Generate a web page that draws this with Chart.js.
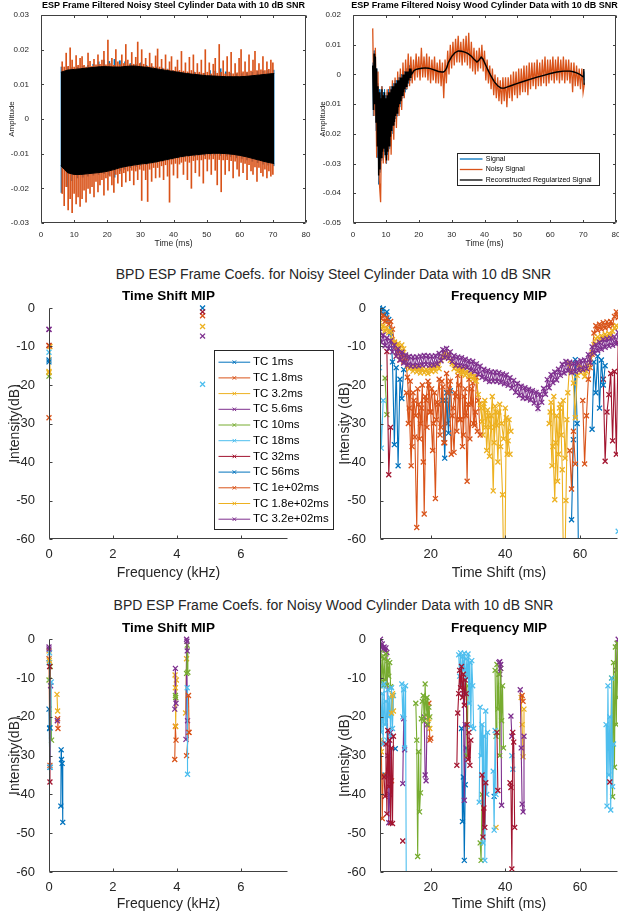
<!DOCTYPE html>
<html lang="en">
<head>
<meta charset="utf-8">
<title>BPD ESP Frame Coefs.</title>
<script src="https://cdn.jsdelivr.net/npm/chart.js@4.4.1/dist/chart.umd.min.js"></script>
<style>
  html, body { margin: 0; padding: 0; background: #fff; }
  body { position: relative; width: 619px; height: 916px; overflow: hidden; font-family: 'Liberation Sans', Arial, sans-serif; }
  canvas { position: absolute; }
  .suptitle { position: absolute; left: 0; width: 667px; text-align: center; font-size: 14px; line-height: 16px; color: #262626; white-space: nowrap; }
</style>
</head>
<body>
<div class="suptitle" style="top:266px">BPD ESP Frame Coefs. for Noisy Steel Cylinder Data with 10 dB SNR</div>
<div class="suptitle" style="top:597px">BPD ESP Frame Coefs. for Noisy Wood Cylinder Data with 10 dB SNR</div>
<canvas id="steel-signal"></canvas>
<canvas id="wood-signal"></canvas>
<canvas id="steel-ts"></canvas>
<canvas id="steel-freq"></canvas>
<canvas id="wood-ts"></canvas>
<canvas id="wood-freq"></canvas>
<script>
Chart.defaults.font.family = "'Liberation Sans', Arial, sans-serif";
Chart.defaults.color = '#262626';

// ---- tick values ----
const timeTicks = [0, 10, 20, 30, 40, 50, 60, 70, 80];
const steelAmpTicks = [-0.03, -0.02, -0.01, 0, 0.01, 0.02, 0.03];
const woodAmpTicks = [-0.05, -0.04, -0.03, -0.02, -0.01, 0, 0.01, 0.02];
const dbTicks = [-60, -50, -40, -30, -20, -10, 0];
const freqTicks = [0, 2, 4, 6];
const shiftTicks = [20, 40, 60];

// ---- time constants of the frame ----
const tcLabels = ['TC 1ms', 'TC 1.8ms', 'TC 3.2ms', 'TC 5.6ms', 'TC 10ms', 'TC 18ms', 'TC 32ms',
                  'TC 56ms', 'TC 1e+02ms', 'TC 1.8e+02ms', 'TC 3.2e+02ms'];
const tcColors = ['#0072BD', '#D95319', '#EDB120', '#7E2F8E', '#77AC30', '#4DBEEE', '#A2142F',
                  '#0072BD', '#D95319', '#EDB120', '#7E2F8E'];

// ---- steel cylinder signal (ms, amplitude) ----
// reconstructed signal envelope
const steelEnvT = [6, 7, 8, 10, 12, 14, 16, 18, 20, 22, 24, 26, 28, 30, 32, 34, 36, 38, 40, 42, 44, 46,
                   48, 50, 52, 54, 56, 58, 60, 62, 64, 66, 68, 70, 70.4];
const steelReconHi = [0.0135, 0.0138, 0.0141, 0.0143, 0.0145, 0.0147, 0.0149, 0.0151, 0.0151, 0.0150,
                      0.0150, 0.0152, 0.0153, 0.0151, 0.0149, 0.0146, 0.0143, 0.0140, 0.0137, 0.0134,
                      0.0131, 0.0129, 0.0127, 0.0125, 0.0124, 0.0123, 0.0122, 0.0122, 0.0122, 0.0123,
                      0.0125, 0.0127, 0.0129, 0.0131, 0.0131];
const steelReconLo = [-0.0135, -0.0145, -0.0155, -0.0160, -0.0160, -0.0158, -0.0156, -0.0154, -0.0151, -0.0146,
                      -0.0140, -0.0136, -0.0133, -0.0130, -0.0128, -0.0125, -0.0121, -0.0117, -0.0113, -0.0109,
                      -0.0106, -0.0104, -0.0102, -0.0100, -0.0099, -0.0099, -0.0100, -0.0102, -0.0105, -0.0109,
                      -0.0114, -0.0119, -0.0124, -0.0128, -0.0129];
// noisy signal extremes, one per 0.6 ms from 6.4 ms
const steelNoisyT0 = 6.4, steelNoisyDt = 0.6;
const steelNoisyHi = [
  0.0165, 0.0150, 0.0190, 0.0152, 0.0205, 0.0170, 0.0150, 0.0183, 0.0155, 0.0175,
  0.0180, 0.0155, 0.0150, 0.0190, 0.0166, 0.0152, 0.0172, 0.0156, 0.0185, 0.0158,
  0.0170, 0.0195, 0.0156, 0.0228, 0.0160, 0.0175, 0.0155, 0.0200, 0.0165, 0.0157,
  0.0185, 0.0160, 0.0215, 0.0170, 0.0157, 0.0192, 0.0158, 0.0178, 0.0222, 0.0160,
  0.0200, 0.0158, 0.0175, 0.0152, 0.0190, 0.0160, 0.0150, 0.0182, 0.0202, 0.0150,
  0.0172, 0.0145, 0.0185, 0.0143, 0.0165, 0.0180, 0.0140, 0.0150, 0.0170, 0.0140,
  0.0195, 0.0138, 0.0162, 0.0136, 0.0178, 0.0140, 0.0185, 0.0134, 0.0160, 0.0135,
  0.0170, 0.0132, 0.0200, 0.0135, 0.0162, 0.0130, 0.0158, 0.0175, 0.0132, 0.0215,
  0.0135, 0.0168, 0.0130, 0.0180, 0.0135, 0.0192, 0.0130, 0.0160, 0.0133, 0.0175,
  0.0200, 0.0136, 0.0165, 0.0135, 0.0185, 0.0138, 0.0170, 0.0195, 0.0140, 0.0160,
  0.0142, 0.0180, 0.0140, 0.0165, 0.0143, 0.0170, 0.0162];
const steelNoisyLo = [
  -0.0215, -0.0250, -0.0195, -0.0262, -0.0230, -0.0270, -0.0215, -0.0245, -0.0225, -0.0252,
  -0.0230, -0.0205, -0.0240, -0.0200, -0.0215, -0.0195, -0.0225, -0.0180, -0.0210, -0.0190,
  -0.0175, -0.0220, -0.0170, -0.0205, -0.0165, -0.0190, -0.0212, -0.0160, -0.0185, -0.0158,
  -0.0195, -0.0155, -0.0182, -0.0150, -0.0178, -0.0148, -0.0190, -0.0150, -0.0175, -0.0145,
  -0.0235, -0.0148, -0.0175, -0.0238, -0.0145, -0.0180, -0.0140, -0.0170, -0.0140, -0.0168,
  -0.0135, -0.0175, -0.0132, -0.0165, -0.0240, -0.0130, -0.0162, -0.0128, -0.0170, -0.0130,
  -0.0125, -0.0160, -0.0122, -0.0175, -0.0125, -0.0200, -0.0120, -0.0155, -0.0118, -0.0165,
  -0.0118, -0.0185, -0.0115, -0.0150, -0.0116, -0.0160, -0.0115, -0.0148, -0.0190, -0.0117,
  -0.0210, -0.0118, -0.0160, -0.0117, -0.0150, -0.0120, -0.0170, -0.0122, -0.0145, -0.0165,
  -0.0125, -0.0155, -0.0128, -0.0175, -0.0132, -0.0150, -0.0160, -0.0138, -0.0180, -0.0140,
  -0.0155, -0.0165, -0.0145, -0.0170, -0.0150, -0.0165, -0.0160];
// clean signal extremes, one per 1.6 ms from 6.2 ms
const steelSignalT0 = 6.2, steelSignalDt = 1.6;
const steelSignalHi = [0.0150, 0.0150, 0.0148, 0.0150, 0.0152, 0.0155, 0.0158, 0.0165, 0.0170, 0.0166,
                       0.0172, 0.0168, 0.0165, 0.0160, 0.0158, 0.0162, 0.0155, 0.0152, 0.0150, 0.0147,
                       0.0144, 0.0140, 0.0137, 0.0135, 0.0133, 0.0135, 0.0131, 0.0132, 0.0140, 0.0138,
                       0.0145, 0.0136, 0.0132, 0.0130, 0.0131, 0.0133, 0.0135, 0.0137, 0.0138, 0.0140, 0.0141];
const steelSignalLo = [-0.0212, -0.0195, -0.0178, -0.0170, -0.0168, -0.0165, -0.0162, -0.0160, -0.0158, -0.0162,
                       -0.0168, -0.0150, -0.0145, -0.0140, -0.0137, -0.0134, -0.0131, -0.0128, -0.0125, -0.0122,
                       -0.0119, -0.0116, -0.0112, -0.0110, -0.0108, -0.0107, -0.0106, -0.0105, -0.0104, -0.0104,
                       -0.0105, -0.0107, -0.0109, -0.0112, -0.0115, -0.0118, -0.0122, -0.0126, -0.0130, -0.0133, -0.0135];

// ---- wood cylinder signal (ms, amplitude) ----
// early ringing, sampled every 0.2 ms from 6 ms
const woodDenseT0 = 6.0, woodDenseDt = 0.2;
const woodReconDense = [
  0.003, -0.012, 0.007, -0.010, 0.006, -0.016, 0.002, -0.024, -0.004, -0.034,
  -0.006, -0.032, -0.008, -0.028, -0.005, -0.026, -0.007, -0.025, -0.006, -0.027,
  -0.008, -0.029, -0.007, -0.026, -0.006, -0.024, -0.006, -0.021, -0.005, -0.019,
  -0.004, -0.017, -0.004, -0.016, -0.003, -0.014, -0.003, -0.013, -0.002, -0.011,
  -0.002, -0.010, -0.001, -0.009, -0.001, -0.007, 0.000, -0.006, 0.000, -0.005,
  0.001, -0.004, 0.001, -0.003, 0.001, -0.002, 0.002, -0.001, 0.002, 0.000];
const woodSignalDense = [
  0.004, -0.014, 0.008, -0.012, 0.006, -0.019, 0.002, -0.028, -0.003, -0.037,
  -0.005, -0.033, -0.007, -0.029, -0.004, -0.027, -0.006, -0.026, -0.005, -0.028,
  -0.007, -0.030, -0.006, -0.027, -0.005, -0.025, -0.005, -0.022, -0.004, -0.020,
  -0.003, -0.018, -0.003, -0.017, -0.002, -0.015, -0.002, -0.014, -0.001, -0.012,
  -0.001, -0.011, 0.000, -0.010, 0.000, -0.008, 0.001, -0.007, 0.001, -0.006,
  0.002, -0.005, 0.002, -0.004, 0.002, -0.003, 0.003, -0.002, 0.003, -0.001];
// slow part after the ringing
const woodSmoothT = [18.5, 19, 20, 21, 22, 23, 24, 25, 26, 27,
                     27.5, 28, 28.5, 29, 30, 31, 32, 33, 34, 35,
                     36, 37, 37.7, 38.3, 39, 39.5, 40, 41, 42, 43,
                     44, 45, 46, 47, 48, 50, 52, 54, 56, 58,
                     60, 62, 64, 66, 67, 68, 69, 70, 70.2, 70.3];
const woodReconSmooth = [0.0012, 0.0016, 0.0019, 0.0021, 0.0022, 0.0021, 0.0018, 0.0014, 0.0010, 0.0008,
                         0.0008, 0.0012, 0.0022, 0.0040, 0.0060, 0.0073, 0.0079, 0.0078, 0.0075, 0.0070,
                         0.0061, 0.0049, 0.0042, 0.0048, 0.0058, 0.0052, 0.0040, 0.0016, -0.0006, -0.0025,
                         -0.0038, -0.0046, -0.0046, -0.0042, -0.0038, -0.0030, -0.0023, -0.0016, -0.0009, -0.0003,
                         0.0003, 0.0008, 0.0011, 0.0011, 0.0009, 0.0005, 0.0000, -0.0008, 0.0018, -0.0035];
const woodSignalSmooth = [0.0013, 0.0017, 0.0020, 0.0022, 0.0022, 0.0020, 0.0017, 0.0013, 0.0010, 0.0008,
                          0.0009, 0.0013, 0.0024, 0.0042, 0.0062, 0.0074, 0.0080, 0.0079, 0.0076, 0.0071,
                          0.0062, 0.0050, 0.0043, 0.0049, 0.0059, 0.0053, 0.0041, 0.0017, -0.0005, -0.0024,
                          -0.0037, -0.0045, -0.0046, -0.0043, -0.0039, -0.0031, -0.0024, -0.0017, -0.0010, -0.0004,
                          0.0002, 0.0007, 0.0010, 0.0011, 0.0009, 0.0005, 0.0001, -0.0006, 0.0010, -0.0020];
// noisy recording, every 0.4 ms from 6 ms
const woodNoisyT0 = 6.0, woodNoisyDt = 0.4;
const woodNoisy = [
  0.0155, -0.014, 0.009, -0.028, 0.001, -0.036, -0.043, -0.004, -0.030, -0.007,
  -0.030, -0.005, -0.029, -0.004, -0.027, -0.002, -0.022, -0.001, -0.018, 0.001,
  -0.014, 0.002, -0.012, 0.004, -0.008, 0.005, -0.005, 0.007, -0.004, 0.006,
  -0.003, 0.005, -0.002, 0.007, -0.001, 0.006, -0.002, 0.009, -0.001, 0.006,
  -0.001, 0.007, -0.002, 0.006, -0.003, 0.005, -0.002, 0.006, -0.003, 0.004,
  -0.003, 0.005, -0.004, 0.004, -0.008, 0.005, -0.003, 0.008, 0.000, 0.010,
  0.002, 0.011, 0.003, 0.012, 0.004, 0.013, 0.004, 0.011, 0.003, 0.012,
  0.004, 0.013, 0.003, 0.014, 0.002, 0.011, 0.001, 0.009, 0.000, 0.008,
  0.001, 0.009, 0.002, 0.010, 0.001, 0.008, -0.002, 0.005, -0.003, 0.003,
  -0.005, 0.002, -0.007, 0.000, -0.008, -0.001, -0.009, -0.002, -0.010, -0.001,
  -0.009, -0.001, -0.011, -0.001, -0.008, 0.000, -0.009, 0.001, -0.007, 0.001,
  -0.008, 0.002, -0.007, 0.002, -0.006, 0.003, -0.006, 0.003, -0.007, 0.004,
  -0.005, 0.004, -0.004, 0.004, -0.005, 0.005, -0.004, 0.004, -0.004, 0.005,
  -0.003, 0.006, -0.004, 0.005, -0.003, 0.005, -0.002, 0.006, -0.003, 0.005,
  -0.002, 0.006, -0.003, 0.005, -0.002, 0.006, -0.003, 0.005, -0.002, 0.005,
  -0.003, 0.004, -0.006, 0.004, -0.004, 0.003, -0.004, 0.002, -0.005, 0.002,
  -0.006, -0.003];

// ---- time shift MIP: per TC, runs of [kHz, dB] pairs ----
const steelTsMip = [
  [[[0, -13.5]], [[4.8, 0.0]]],
  [[[0, -28.5]], [[4.8, -2.0]]],
  [[[0, -16.5], [0.03, -10.0]], [[4.8, -4.8]]],
  [[[0, -5.6]], [[4.8, -7.3]]],
  [[[0, -17.7]]],
  [[[0, -11.5]], [[4.8, -19.8]]],
  [[[0, -9.7]], [[4.8, -1.0]]],
  [[[0, -14.0]]],
  [[[0, -9.8]]],
  [[[0, -16.8]]],
  [[[0, -5.5]]]
];
const woodTsMip = [
  [[[0, -18.0], [0.02, -23.0], [0.03, -33.0]], [[0.37, -43.0], [0.38, -28.5], [0.39, -31.0], [0.41, -32.0], [0.43, -47.2]]],
  [[[0, -5.0], [0.03, -32.5]], [[0.27, -20.5], [0.28, -23.0]], [[3.93, -31.0], [3.95, -22.4], [3.97, -26.0]], [[4.3, -30.0], [4.36, -24.0]]],
  [[[0, -3.0], [0.02, -6.0]], [[0.25, -14.2], [0.27, -18.5]], [[3.94, -9.2], [3.96, -22.5], [3.98, -10.5]], [[4.27, -19.0], [4.3, -5.0]]],
  [[[0, -2.0], [0.05, -12.0]], [[0.26, -21.0]], [[3.93, -18.0], [3.95, -7.5], [3.97, -16.5]], [[4.28, -25.8], [4.3, 0.0], [4.33, -21.0]]],
  [[[0, -10.5], [0.04, -7.0], [0.08, -26.0]], [[3.95, -14.5], [3.96, -15.0]], [[4.3, -8.8], [4.32, -1.5], [4.34, -8.5]]],
  [[[0, -6.0], [0.02, -3.5], [0.04, -33.0], [0.07, -11.0]], [[4.32, -12.5], [4.33, -34.8]]],
  [[[0.02, -7.0], [0.03, -36.8]]],
  [[[0.03, -22.8]]],
  [[[4.36, -14.5], [4.38, -24.0]]],
  [[[0.01, -5.5]], [[3.95, -12.5]]],
  [[[0, -2.5]], [[4.31, -0.5], [4.32, -3.0]]]
];

// ---- frequency MIP: per TC, runs of [start ms, dB, dB, ...] on a fixed step ----
const steelFreqStep = 0.5;
const steelFreqMip = [
  [],
  [[13.5, -22.0, -30.0, -19.0, -36.0, -24.0, -28.0, -21.0, -34.0, -26.0, -40.0,
    -23.0, -31.0, -20.0, -27.0, -37.0, -22.0, -29.0, -25.0, -33.0, -19.0,
    -35.0, -24.0, -30.0, -21.0, -38.0, -26.0, -22.0, -32.0, -20.0, -29.0,
    -36.0, -23.0, -28.0, -25.0, -34.0, -21.0, -30.0, -27.0, -32.0]],
  [[33.5, -26.0, -33.0, -24.0, -37.0, -28.0, -31.0, -23.0, -35.0, -27.0, -40.0,
    -25.0, -30.0, -34.0, -26.0, -38.0, -29.0, -32.0],
   [52.0, -27.0, -41.0, -23.0, -35.0, -45.0, -26.0, -33.0, -24.0, -39.0, -29.0]],
  [],
  [[7.75, -18.2, -27.7]],
  [[6.25, -15.5, -36.4, -24.0], [70.25, -58.0]],
  [[8.25, -11.3, -43.3, -31.0], [66.25, -18.5, -39.8, -27.0, -22.5, -17.0, -34.5, -16.5, -38.0, -9.0]],
  [[6.25, 0.0, -1.0, -0.2, -1.8, -1.0, -3.0, -6.5, -14.0, -35.5, -15.5, -41.0, -18.5, -23.5, -16.0],
   [23.25, -24.0, -39.0, -22.0, -32.5, -21.5],
   [57.75, -55.0, -34.2, -13.4, -30.0, -80],
   [63.25, -31.5, -14.0, -22.0, -12.5, -26.0, -13.5, -20.0, -15.0]],
  [[6.25, -1.2, -2.8, -1.8, -3.5, -2.6, -4.2, -3.5, -5.5, -9.0, -12.5,
    -11.0, -13.5, -12.0, -14.0, -13.0, -18.0, -26.0, -41.0, -22.0, -33.5,
    -57.0, -25.0, -30.0, -20.0, -53.5, -24.0, -19.0, -27.0, -21.0, -30.0,
    -49.5, -24.5, -18.5, -31.0, -20.5, -35.0, -17.0, -22.0, -19.0, -28.0,
    -37.5, -23.0, -17.5, -29.0, -16.0, -33.0, -21.0, -45.0, -18.5, -25.0,
    -19.5, -30.5, -18.0, -24.0, -33.0],
   [57.25, -37.0, -47.0, -32.0, -40.5],
   [60.75, -24.0, -40.5, -28.0, -18.5, -15.5, -12.0, -6.5, -4.6, -5.8, -4.2,
    -5.5, -3.8, -5.2, -3.6, -4.8, -3.5, -4.6, -2.2, -1.0, -2.5]],
  [[6.25, -4.0, -5.5, -4.6, -6.0, -5.2, -6.4, -6.0, -8.2, -8.8, -10.0,
    -9.2, -10.4, -9.6, -10.6, -12.5, -15.0, -15.8, -15.2, -16.4, -15.4,
    -16.6, -15.5, -16.9, -15.7, -16.8, -15.9, -17.0, -15.6, -16.5, -15.3,
    -16.4, -14.8, -15.8, -13.5, -12.6, -11.5, -12.8, -11.8, -13.6, -14.5,
    -15.8, -15.0, -16.5, -15.6, -17.2, -16.0, -17.5, -16.4, -17.8, -17.0,
    -18.5, -17.6, -19.0, -22.5, -25.0, -29.5, -24.8, -31.0, -26.5, -38.5,
    -28.0, -47.5, -25.5, -30.5, -27.0, -36.0, -48.5, -80, -28.5, -34.5,
    -38.0],
   [51.75, -30.0, -24.5, -36.0, -49.8, -28.0, -38.0, -25.0, -42.0, -80, -50.0,
    -22.0, -14.5, -16.5, -19.5, -28.5, -17.5, -14.8, -16.8, -15.5, -17.8,
    -16.5, -15.0, -13.2, -11.5, -9.5, -8.0, -7.5, -8.2, -7.2, -7.8,
    -6.8, -7.4, -6.6, -7.1, -6.0, -5.2, -4.6, -5.0]],
  [[6.25, -6.3, -8.9, -7.0, -9.8, -7.8, -10.5, -8.5, -11.4, -9.6, -12.5,
    -10.6, -13.5, -11.5, -14.3, -12.2, -14.8, -12.6, -15.1, -12.7, -15.1,
    -12.7, -15.0, -12.5, -14.8, -12.3, -14.7, -12.4, -14.9, -12.5, -14.8,
    -12.4, -14.5, -11.8, -13.7, -10.8, -12.9, -10.5, -13.1, -11.4, -13.9,
    -12.4, -14.9, -12.7, -15.0, -12.9, -15.2, -13.3, -15.5, -13.7, -16.1,
    -13.9, -16.5, -14.5, -17.2, -15.1, -18.0, -15.9, -18.5, -16.3, -19.1,
    -16.6, -19.0, -16.6, -19.1, -16.8, -19.3, -17.1, -19.7, -17.4, -20.1,
    -18.1, -20.8, -18.8, -21.9, -19.6, -22.7, -20.3, -23.4, -20.7, -23.5,
    -21.1, -23.9, -21.5, -24.7, -21.9, -26.1, -22.4, -24.5, -20.9, -22.4,
    -18.6, -20.7, -17.3, -19.4, -16.6, -18.7, -15.9, -17.5, -14.6, -16.9,
    -13.9, -16.3, -14.1, -16.8, -14.4, -16.5, -14.1, -16.2, -13.7, -16.0,
    -13.5, -15.7, -12.1, -14.2, -10.1, -11.7, -9.5, -11.1, -8.9, -10.7,
    -8.2, -10.2, -8.0, -9.9, -7.8, -9.7, -7.5, -9.3, -6.3]]
];
const woodFreqStep = 0.25;
const woodFreqMip = [
  [[7.75, -35.0], [10.5, -28.2], [28.25, -23.0, -47.0, -35.5, -57.0, -37.5, -28.0], [37.0, -40.5]],
  [[6.75, -26.5, -46.2, -35.0], [9.5, -36.5], [19.5, -16.5, -26.0, -25.5]],
  [[6.5, -26.0, -29.0], [9.75, -14.0, -18.5], [19.5, -20.5, -23.0], [37.5, -48.5], [44.25, -15.0, -22.0, -30.3, -18.0]],
  [[6.5, 0.0, -2.0, -1.2, -2.6, -2.0, -2.8, -2.2, -3.4, -30.0, -47.3, -40.0, -24.0],
   [12.5, -37.2, -20.5, -28.5], [18.25, -20.0, -35.0, -36.5, -22.0], [28.75, -14.0, -41.5, -22.0],
   [38.25, -6.0, -9.0, -6.5, -42.8], [41.5, -19.8, -25.0], [44.0, -13.0, -28.0, -42.5, -44.5, -25.0],
   [69.75, -8.0, -1.0, 0.0]],
  [[6.5, -3.5, -11.0, -4.5, -12.0, -5.0, -10.5, -3.8, -11.8, -5.5, -9.5, -6.0, -12.2],
   [16.0, -16.5, -26.0, -56.0, -29.0, -44.5, -39.6, -20.5, -16.0, -14.5, -21.0, -11.5, -19.5, -15.0, -22.0, -17.5, -20.0],
   [29.5, -9.0, -30.0, -12.0], [33.25, -52.5, -57.0, -40.0],
   [37.25, -8.0, -25.0, -6.5, -18.0, -9.0, -30.0, -7.5, -21.0, -12.0, -28.0],
   [68.25, -28.0, -10.0, -40.6, -6.0, -33.0, -2.0, -22.0, -1.0, -15.0]],
  [[6.5, -12.0, -24.0, -14.0, -27.0, -11.5, -22.0, -16.0, -26.0, -13.0, -20.0, -15.0, -25.0, -12.5, -23.0, -14.5],
   [12.25, -11.5, -20.0, -13.0, -28.0, -12.0, -80],
   [27.5, -4.0, -9.5, -3.5, -12.0, -4.5, -8.0, -3.6, -14.0, -5.0, -10.0, -3.8, -16.5, -6.0, -22.5, -5.5, -12.0, -23.0],
   [33.0, -42.0, -17.5, -30.0, -22.0, -52.5, -25.0, -57.0, -18.5, -40.0, -24.0],
   [36.75, -34.0, -49.2, -23.5, -40.0], [41.75, -30.0, -33.5],
   [67.0, -22.0, -43.0, -12.0, -35.0, -20.0, -44.0, -10.0, -38.0, -27.0]],
  [[7.5, -35.5, -40.5, -27.0, -45.0, -23.5, -38.0, -26.0, -47.3, -28.0, -47.5, -25.0], [12.5, -52.0],
   [27.0, -32.5, -19.0, -14.0, -8.0, -12.5, -7.0, -15.0, -9.0, -17.0, -10.5, -14.0, -22.0, -31.0, -24.0, -32.5, -26.0],
   [33.75, -35.0, -51.0, -43.5, -48.5, -37.0], [37.75, -24.0, -39.0],
   [41.25, -37.0, -38.2, -59.2, -24.0, -26.5, -48.5], [68.0, -36.8]],
  [],
  [[44.5, -14.5, -16.0]],
  [[9.5, -19.0, -14.5]],
  [[38.5, -5.8, -7.5]]
];

// ---- point builders ----
function gridPoints(t0, dt, values) {
  return values.map((v, i) => ({ x: t0 + i * dt, y: v }));
}
function xyPoints(xs, ys) {
  return xs.map((x, i) => ({ x: x, y: ys[i] }));
}
function floatBars(t0, dt, lo, hi) {
  return hi.map((h, i) => ({ x: t0 + i * dt, y: [lo[i], h] }));
}
// each run becomes its own line piece; a null point breaks the line
function runPoints(runs, step) {
  const pts = [];
  runs.forEach(run => {
    run.slice(1).forEach((v, i) => pts.push({ x: run[0] + i * step, y: v }));
    pts.push({ x: run[0], y: null });
  });
  return pts;
}
function pairRunPoints(runs) {
  const pts = [];
  runs.forEach(run => {
    run.forEach(p => pts.push({ x: p[0], y: p[1] }));
    pts.push({ x: run[0][0], y: null });
  });
  return pts;
}

// ---- plugins ----
// inward tick marks and axis lines, optional closed box
const axesFrame = {
  id: 'axesFrame',
  defaults: { color: '#404040', tickLength: 3, box: false },
  afterDatasetsDraw(chart, args, opts) {
    const { ctx, chartArea: a, scales: { x, y } } = chart;
    const L = Math.round(a.left) + 0.5, R = Math.round(a.right) - 0.5;
    const T = Math.round(a.top) + 0.5, B = Math.round(a.bottom) - 0.5;
    const len = opts.tickLength;
    ctx.save();
    ctx.strokeStyle = opts.color;
    ctx.lineWidth = 1;
    ctx.beginPath();
    ctx.moveTo(L, T); ctx.lineTo(L, B); ctx.lineTo(R, B);
    if (opts.box) { ctx.lineTo(R, T); ctx.closePath(); }
    x.ticks.forEach(t => {
      const px = Math.round(x.getPixelForValue(t.value)) + 0.5;
      ctx.moveTo(px, B); ctx.lineTo(px, B - len);
      if (opts.box) { ctx.moveTo(px, T); ctx.lineTo(px, T + len); }
    });
    y.ticks.forEach(t => {
      const py = Math.round(y.getPixelForValue(t.value)) + 0.5;
      ctx.moveTo(L, py); ctx.lineTo(L + len, py);
      if (opts.box) { ctx.moveTo(R, py); ctx.lineTo(R - len, py); }
    });
    ctx.stroke();
    ctx.restore();
  }
};

// bold title centred over the plot area rather than the whole canvas
const areaTitle = {
  id: 'areaTitle',
  afterDraw(chart, args, o) {
    const { ctx, chartArea: a } = chart;
    ctx.save();
    ctx.font = 'bold ' + o.size + "px 'Liberation Sans', Arial, sans-serif";
    ctx.fillStyle = '#000';
    ctx.textAlign = 'center';
    ctx.textBaseline = 'middle';
    ctx.fillText(o.text, (a.left + a.right) / 2, a.top - o.gap);
    ctx.restore();
  }
};

// boxed legend placed at an offset from the plot area corner
const boxLegend = {
  id: 'boxLegend',
  afterDraw(chart, args, o) {
    const { ctx, chartArea: a } = chart;
    const left = Math.round(a.left + o.x) + 0.5, top = Math.round(a.top + o.y) + 0.5;
    ctx.save();
    ctx.fillStyle = '#fff';
    ctx.fillRect(left, top, o.width, o.height);
    ctx.strokeStyle = '#262626';
    ctx.lineWidth = 1;
    ctx.strokeRect(left, top, o.width, o.height);
    ctx.font = o.fontSize + "px 'Liberation Sans', Arial, sans-serif";
    ctx.textBaseline = 'middle';
    chart.data.datasets.forEach((ds, i) => {
      const yy = top + o.firstRow + i * o.rowStep;
      ctx.strokeStyle = ds.borderColor;
      ctx.lineWidth = o.lineWidth;
      ctx.beginPath();
      ctx.moveTo(left + o.lineFrom, yy);
      ctx.lineTo(left + o.lineTo, yy);
      ctx.stroke();
      if (ds.pointRadius > 0) {
        ctx.lineWidth = 1;
        Chart.helpers.drawPoint(ctx, { pointStyle: ds.pointStyle, radius: o.markerRadius, borderWidth: 1 },
          left + (o.lineFrom + o.lineTo) / 2, yy);
      }
      ctx.fillStyle = '#000';
      ctx.fillText(ds.label, left + o.textX, yy);
    });
    ctx.restore();
  }
};
Chart.register(axesFrame, areaTitle, boxLegend);

function placeCanvas(id, left, top, width, height) {
  const c = document.getElementById(id);
  c.width = width;
  c.height = height;
  c.style.left = left + 'px';
  c.style.top = top + 'px';
  c.style.width = width + 'px';
  c.style.height = height + 'px';
  return c;
}

function linearAxis(o) {
  const horizontal = o.axis === 'x';
  return {
    type: 'linear',
    min: o.min,
    max: o.max,
    offset: false,
    grid: { display: false },
    border: { display: false },
    afterBuildTicks: scale => { scale.ticks = o.ticks.map(v => ({ value: v })); },
    afterFit: scale => { if (horizontal) scale.height = o.size; else scale.width = o.size; },
    ticks: {
      autoSkip: false, maxRotation: 0, padding: o.tickPad, color: '#262626',
      font: { size: o.tickFont },
      callback: o.format || (v => String(v))
    },
    title: {
      display: true, text: o.title, color: '#262626', font: { size: o.titleFont },
      padding: horizontal ? { top: 0, bottom: o.titlePad } : { top: o.titlePad, bottom: 0 }
    }
  };
}

function signalOptions(o) {
  return {
    responsive: false,
    animation: false,
    events: [],
    layout: { padding: { left: 0, right: 41, top: 15, bottom: 0 } },
    plugins: {
      legend: { display: false },
      tooltip: { enabled: false },
      title: { display: false },
      areaTitle: { text: o.title, size: 9, gap: 9.5 },
      axesFrame: { box: true, tickLength: 2.5 },
      boxLegend: o.legend || false
    },
    scales: {
      x: linearAxis({ axis: 'x', min: 0, max: 80, ticks: timeTicks, size: 30, tickPad: -1, tickFont: 8,
                      title: 'Time (ms)', titleFont: 8.5, titlePad: 4 }),
      y: linearAxis({ axis: 'y', min: o.yMin, max: o.yMax, ticks: o.yTicks, size: 41, tickPad: 4, tickFont: 8,
                      title: 'Amplitude', titleFont: 8, titlePad: o.yTitlePad, format: v => String(+v.toFixed(2)) })
    }
  };
}

function mipOptions(o) {
  return {
    responsive: false,
    animation: false,
    events: [],
    layout: { padding: { left: 0, right: 49, top: o.areaTop, bottom: 0 } },
    plugins: {
      legend: { display: false },
      tooltip: { enabled: false },
      title: { display: false },
      areaTitle: { text: o.title, size: 13.5, gap: o.titleGap },
      axesFrame: { box: false, tickLength: 3 },
      boxLegend: o.legend || false
    },
    scales: {
      x: linearAxis({ axis: 'x', min: o.xMin, max: o.xMax, ticks: o.xTicks, size: 45, tickPad: 0, tickFont: 13,
                      title: o.xTitle, titleFont: 14, titlePad: o.xTitlePad }),
      y: linearAxis({ axis: 'y', min: -60, max: 0, ticks: dbTicks, size: 49, tickPad: 6, tickFont: 13,
                      title: o.yTitle, titleFont: 14, titlePad: o.yTitlePad })
    }
  };
}

function mipDatasets(pointsPerTc, clip) {
  return tcLabels.map((label, i) => ({
    label: label,
    data: pointsPerTc[i],
    borderColor: tcColors[i],
    backgroundColor: tcColors[i],
    borderWidth: 1.1,
    pointStyle: 'crossRot',
    pointRadius: 3.5,
    pointBorderWidth: 1.3,
    spanGaps: false,
    clip: clip,
    order: tcLabels.length - i
  }));
}

const tcLegend = { x: 165.3, y: 42, width: 119, height: 179, firstRow: 11.7, rowStep: 15.7,
                   lineFrom: 4, lineTo: 35.7, textX: 38.4, fontSize: 11.5, lineWidth: 1, markerRadius: 2.5 };

// ---- steel signal ----
new Chart(placeCanvas('steel-signal', 0, 0, 347, 253), {
  type: 'line',
  data: {
    datasets: [
      { label: 'Reconstructed Regularized Signal', data: xyPoints(steelEnvT, steelReconHi), borderColor: '#000',
        backgroundColor: '#000', borderWidth: 1, pointRadius: 0, fill: '+1', order: 0 },
      { label: 'Reconstructed Regularized Signal', data: xyPoints(steelEnvT, steelReconLo), borderColor: '#000',
        borderWidth: 1, pointRadius: 0, fill: false, order: 0 },
      { type: 'bar', label: 'Noisy Signal', data: floatBars(steelNoisyT0, steelNoisyDt, steelNoisyLo, steelNoisyHi),
        backgroundColor: '#D95319', barThickness: 1, grouped: false, order: 1 },
      { type: 'bar', label: 'Signal', data: floatBars(steelSignalT0, steelSignalDt, steelSignalLo, steelSignalHi),
        backgroundColor: '#0072BD', barThickness: 1.2, grouped: false, order: 2 }
    ]
  },
  options: signalOptions({ title: 'ESP Frame Filtered Noisy Steel Cylinder Data with 10 dB SNR',
                           yMin: -0.03, yMax: 0.03, yTicks: steelAmpTicks, yTitlePad: 6.5 })
});

// ---- wood signal ----
new Chart(placeCanvas('wood-signal', 312, 0, 345, 253), {
  type: 'line',
  data: {
    datasets: [
      { label: 'Signal',
        data: gridPoints(woodDenseT0, woodDenseDt, woodSignalDense).concat(xyPoints(woodSmoothT, woodSignalSmooth)),
        borderColor: '#0072BD', borderWidth: 1, pointRadius: 0, order: 2 },
      { label: 'Noisy Signal', data: gridPoints(woodNoisyT0, woodNoisyDt, woodNoisy),
        borderColor: '#D95319', borderWidth: 1.3, pointRadius: 0, order: 1 },
      { label: 'Reconstructed Regularized Signal',
        data: gridPoints(woodDenseT0, woodDenseDt, woodReconDense).concat(xyPoints(woodSmoothT, woodReconSmooth)),
        borderColor: '#000', borderWidth: 1.4, pointRadius: 0, order: 0 }
    ]
  },
  options: signalOptions({ title: 'ESP Frame Filtered Noisy Wood Cylinder Data with 10 dB SNR',
                           yMin: -0.05, yMax: 0.02, yTicks: woodAmpTicks, yTitlePad: 6,
                           legend: { x: 103.7, y: 137.7, width: 142, height: 32, firstRow: 5.5, rowStep: 10.5,
                                     lineFrom: 2.3, lineTo: 25, textX: 28.3, fontSize: 7, lineWidth: 1.3, markerRadius: 0 } })
});

// ---- steel MIPs ----
new Chart(placeCanvas('steel-ts', 0, 286, 337, 298), {
  type: 'line',
  data: { datasets: mipDatasets(steelTsMip.map(pairRunPoints), { left: 5, top: 5, right: 5, bottom: 0 }) },
  options: mipOptions({ title: 'Time Shift MIP', areaTop: 22, titleGap: 11.8, xMin: 0, xMax: 7.47, xTicks: freqTicks,
                        xTitle: 'Frequency (kHz)', xTitlePad: 2.6, yTitle: 'Intensity(dB)', yTitlePad: 6.6,
                        legend: tcLegend })
});
new Chart(placeCanvas('steel-freq', 331, 286, 336, 298), {
  type: 'line',
  data: { datasets: mipDatasets(steelFreqMip.map(r => runPoints(r, steelFreqStep)), { left: 0, top: 5, right: 0, bottom: 0 }) },
  options: mipOptions({ title: 'Frequency MIP', areaTop: 22, titleGap: 11.8, xMin: 6.4, xMax: 70.2, xTicks: shiftTicks,
                        xTitle: 'Time Shift (ms)', xTitlePad: 2.6, yTitle: 'Intensity (dB)', yTitlePad: 5.6 })
});

// ---- wood MIPs ----
new Chart(placeCanvas('wood-ts', 0, 618, 337, 299), {
  type: 'line',
  data: { datasets: mipDatasets(woodTsMip.map(pairRunPoints), { left: 5, top: 5, right: 5, bottom: 0 }) },
  options: mipOptions({ title: 'Time Shift MIP', areaTop: 21.3, titleGap: 11, xMin: 0, xMax: 7.47, xTicks: freqTicks,
                        xTitle: 'Frequency (kHz)', xTitlePad: 4.3, yTitle: 'Intensity(dB)', yTitlePad: 6.6 })
});
new Chart(placeCanvas('wood-freq', 331, 618, 336, 299), {
  type: 'line',
  data: { datasets: mipDatasets(woodFreqMip.map(r => runPoints(r, woodFreqStep)), { left: 0, top: 5, right: 0, bottom: 0 }) },
  options: mipOptions({ title: 'Frequency MIP', areaTop: 21.3, titleGap: 11, xMin: 6.4, xMax: 70.2, xTicks: shiftTicks,
                        xTitle: 'Time Shift (ms)', xTitlePad: 4.3, yTitle: 'Intensity (dB)', yTitlePad: 5.6 })
});
</script>
</body>
</html>
